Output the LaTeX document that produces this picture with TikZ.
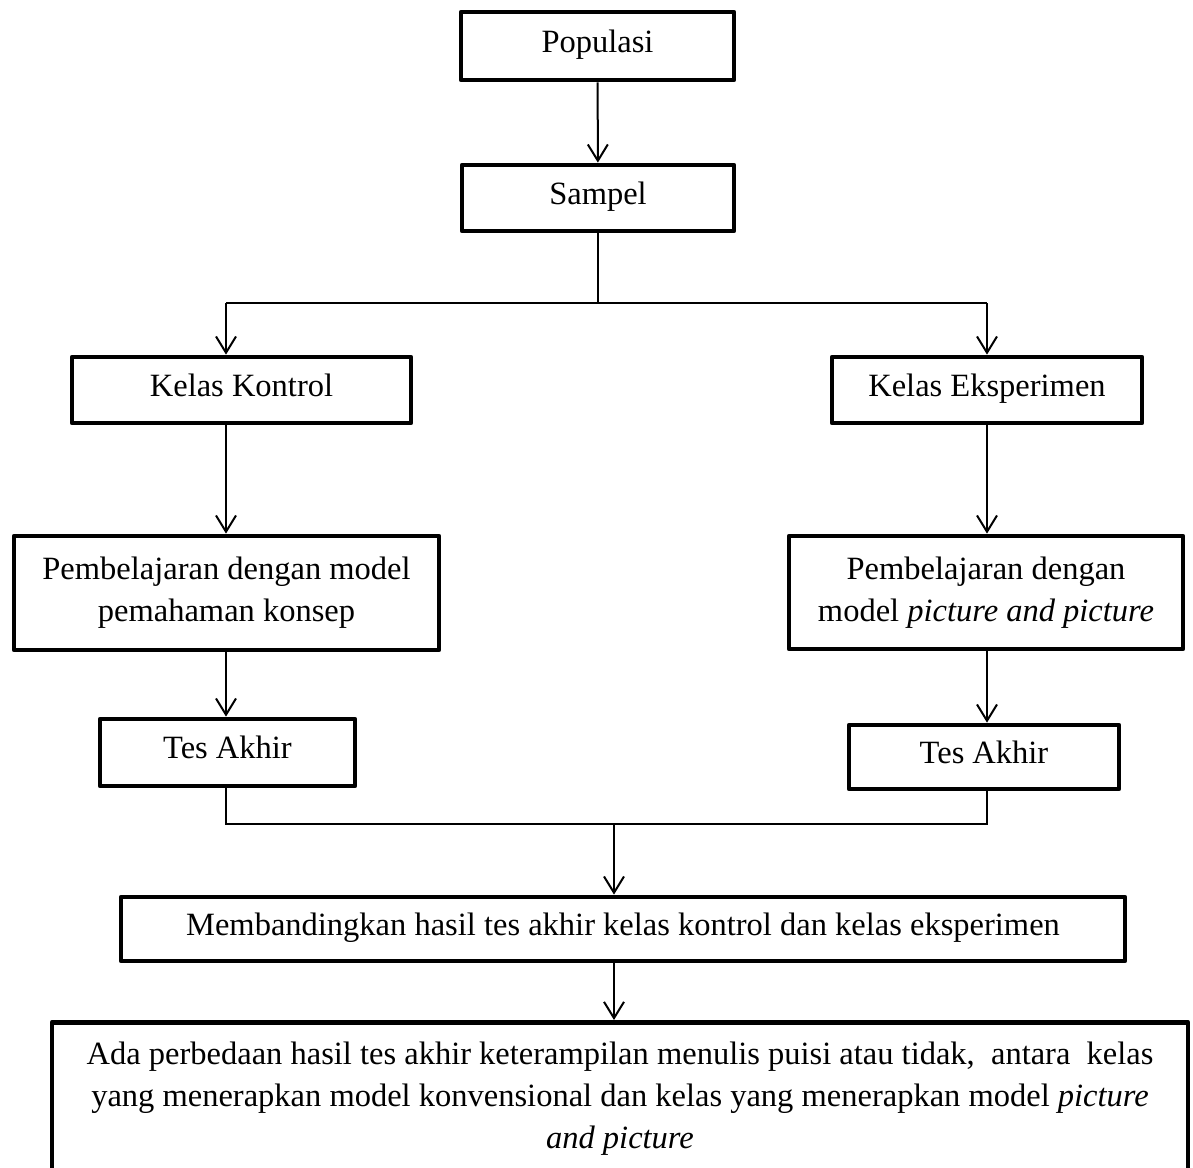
\documentclass[tikz,border=0pt]{standalone}
\usepackage{fontspec}
\setmainfont{Liberation Serif}
\usetikzlibrary{arrows.meta, calc}

\begin{document}
\begin{tikzpicture}[x=0.4pt,y=-0.4pt,>={Straight Barb[length=6.5pt,width=8pt]},
		every node/.style={font=\fontsize{13}{16.8}\selectfont},
		kotak/.style={draw,line width=1.9pt,line join=round,align=center,inner sep=0pt},
		tunggal/.style={text height=0.66em,text depth=0.15em},
		garis/.style={line width=0.8pt}]
		\useasboundingbox (0,0) rectangle (1193,1167);
		
		\node[kotak,tunggal,minimum width=109.2pt,minimum height=27.2pt] (pop) at (597.5,46) {Populasi};
		\node[kotak,tunggal,minimum width=108.8pt,minimum height=26.4pt] (sam) at (598,198) {Sampel};
		\node[kotak,tunggal,minimum width=135.6pt,minimum height=26.4pt] (kk) at (241.5,390) {Kelas Kontrol};
		\node[kotak,tunggal,minimum width=124pt,minimum height=26.4pt] (ke) at (987,390) {Kelas Eksperimen};
		\node[kotak,minimum width=170pt,minimum height=45.6pt] (pbl) at (226.5,593) {Pembelajaran dengan model\\pemahaman konsep};
		\node[kotak,minimum width=157.6pt,minimum height=45.2pt] (pbr) at (986,592.5) {Pembelajaran dengan\\model \textit{picture and picture}};
		\node[kotak,tunggal,minimum width=102pt,minimum height=26.8pt] (tal) at (227.5,752.5) {Tes Akhir};
		\node[kotak,tunggal,minimum width=108pt,minimum height=25.6pt] (tar) at (984,757) {Tes Akhir};
		\node[kotak,tunggal,minimum width=401.6pt,minimum height=25.6pt] (banding) at (623,929) {Membandingkan hasil tes akhir kelas kontrol dan kelas eksperimen};
		\node[kotak,minimum width=454.4pt,minimum height=61pt,anchor=north] (hasil) at (620,1020)
		{Ada perbedaan hasil tes akhir keterampilan menulis puisi atau tidak,\ \ antara\ \ kelas\\
			yang menerapkan model konvensional dan kelas yang menerapkan model \textit{picture}\\
			\textit{and picture}};
		
		% percabangan
		\coordinate (cabangL) at (226,303);
		\coordinate (cabangR) at (987,303);
		\coordinate (gabung) at (614,824);
		\draw[garis,->] (pop) -- (sam);
		\draw[garis] (sam.south) -- (sam.south |- cabangL);
		\draw[garis] (cabangL) -- (cabangR);
		\draw[garis,->] (cabangL) -- (cabangL |- kk.north);
		\draw[garis,->] (cabangR) -- (cabangR |- ke.north);
		\draw[garis,->] (kk.south -| cabangL) -- (cabangL |- pbl.north);
		\draw[garis,->] (ke.south -| cabangR) -- (cabangR |- pbr.north);
		\draw[garis,->] (pbl.south -| cabangL) -- (cabangL |- tal.north);
		\draw[garis,->] (pbr.south -| cabangR) -- (cabangR |- tar.north);
		% penggabungan
		\draw[garis] (tal.south -| cabangL) |- (gabung -| cabangR) -- (tar.south -| cabangR);
		\draw[garis,->] (gabung) -- (gabung |- banding.north);
		\draw[garis,->] (banding.south -| gabung) -- (gabung |- hasil.north);
	\end{tikzpicture}
\end{document}
